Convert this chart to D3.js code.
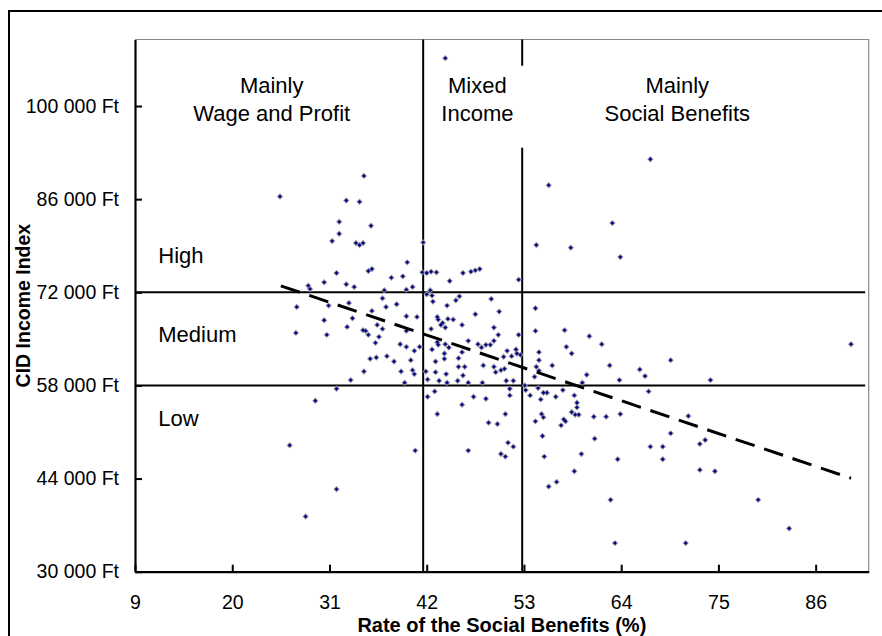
<!DOCTYPE html>
<html>
<head>
<meta charset="utf-8">
<script src="https://cdn.jsdelivr.net/npm/d3@7"></script>
<style>
body { margin: 0; background: #fff; }
svg text { font-family: "Liberation Sans", Arial, sans-serif; fill: #000; }
</style>
</head>
<body>
<div id="chart"></div>
<script>
// rate of the social benefits (%) for each settlement
var socialRate = [
  25.4, 34.9, 32.9, 34.4, 32.1, 35.7, 32.1, 31.3, 34.0, 34.4, 34.8, 41.6, 39.8, 31.8, 35.4, 35.8,
  41.5, 38.0, 39.3, 30.4, 28.6, 28.8, 32.9, 33.8, 39.7, 40.4, 37.2, 37.0, 33.2, 27.3, 30.9, 37.4,
  38.6, 35.8, 33.6, 39.7, 30.4, 40.9, 33.0, 36.4, 34.8, 35.1, 37.0, 39.7, 35.4, 36.6, 30.7, 27.2,
  36.2, 39.0, 39.7, 40.6, 41.2, 37.5, 35.6, 36.3, 38.3, 40.2, 34.9, 39.1, 40.4, 40.6, 33.4, 39.5,
  31.8, 29.4, 26.5, 40.7, 31.8, 28.3,
  44.1, 42.0, 42.5, 43.1, 44.6, 46.1, 47.0, 47.5, 48.0, 52.4, 42.4, 42.0, 42.6, 45.3, 45.7, 49.3,
  42.7, 44.3, 50.2, 47.5, 43.2, 43.3, 44.4, 45.0, 43.8, 43.6, 44.1, 46.0, 42.5, 49.6, 50.1, 52.4,
  43.2, 43.3, 44.1, 44.5, 46.7, 47.8, 48.2, 48.7, 49.2, 49.6, 42.6, 43.0, 44.0, 45.6, 46.0, 44.0,
  50.7, 51.1, 51.6, 52.1, 52.2, 52.6, 48.4, 49.6, 49.8, 50.4, 50.8, 45.6, 46.3, 43.0, 44.2, 46.1,
  41.9, 42.1, 43.4, 44.3, 45.5, 46.7, 48.3, 51.0, 51.8, 42.9, 42.1, 47.3, 48.7, 51.4, 51.4, 46.0,
  43.2, 50.9, 49.0, 50.0, 46.7, 51.2, 51.8, 50.4, 50.9,
  55.8, 67.3, 63.0, 63.9, 54.4, 58.3, 54.3, 57.6, 60.4, 57.8, 61.8, 58.4, 54.7, 54.7, 54.4, 54.7,
  56.2, 62.7, 66.1, 60.1, 66.7, 63.8, 59.6, 69.6, 74.1, 90.0, 54.3, 54.2, 53.1, 53.2, 54.6, 53.7,
  55.2, 55.6, 54.9, 56.6, 57.4, 58.7, 59.0, 59.0, 58.4, 58.8, 59.2, 55.0, 55.2, 57.5, 54.3, 57.7,
  57.2, 60.9, 62.3, 63.9, 55.1, 61.0, 55.3, 59.5, 63.6, 58.7, 56.7, 55.8, 62.8, 63.3, 67.1, 67.3,
  68.7, 68.7, 69.6, 72.9, 73.5, 72.9, 74.6, 71.6, 79.5, 83.0, 71.3
];

// CID income index (Ft)
var incomeIndex = [
  86400, 89500, 85800, 85600, 82600, 82000, 80800, 79700, 79400, 79100, 79400, 79500, 76500, 74900, 75200, 75500,
  75000, 74200, 74400, 73500, 73000, 72500, 73200, 72800, 72400, 72800, 72300, 71100, 70400, 69800, 70000, 69800,
  70200, 69200, 68100, 68400, 67800, 68300, 66800, 67100, 66300, 66200, 66500, 66200, 65600, 65300, 65600, 65900,
  64400, 64200, 63800, 63200, 63800, 62400, 62000, 62200, 61600, 61800, 60100, 60100, 60300, 59700, 58800, 58400,
  57500, 55700, 49000, 48200, 42400, 38300,
  107200, 74900, 75100, 75000, 73700, 74900, 75100, 75300, 75500, 73900, 72300, 71700, 71500, 70800, 71400, 71000,
  70600, 70000, 69100, 68700, 68300, 67900, 68000, 67900, 67400, 67100, 66700, 67100, 66500, 66700, 65600, 65600,
  64500, 64100, 64200, 63700, 64700, 64200, 63700, 64100, 64100, 64700, 63400, 61600, 62000, 62100, 63000, 62800,
  62300, 63200, 62400, 63400, 62800, 62600, 61000, 60800, 60000, 60300, 60500, 60800, 60800, 60000, 59700, 59500,
  60100, 58900, 58700, 58400, 58700, 58400, 58400, 58700, 58700, 57100, 56300, 56300, 56000, 57500, 56500, 55100,
  53700, 53700, 52400, 52200, 48200, 49400, 48800, 47700, 47300,
  88100, 92000, 82400, 77300, 79100, 78700, 69600, 66300, 65400, 63800, 64200, 62800, 63000, 61800, 60800, 60200,
  61000, 61000, 60400, 59600, 59400, 58800, 58400, 61800, 58800, 64200, 66200, 59300, 58000, 57300, 57600, 56500,
  56900, 56900, 55900, 56300, 57300, 56500, 55400, 54700, 54000, 53600, 53600, 53700, 53200, 52900, 52600, 52600,
  52000, 53300, 53300, 53700, 50400, 50000, 47300, 47700, 46900, 45100, 43500, 42800, 40800, 34300, 57100, 48800,
  48800, 46900, 50800, 49200, 49800, 45300, 45100, 53400, 40800, 36500, 34300
];

// linear trend line end points
var trendX = [25.5, 90.0];
var trendY = [72970, 44050];

var xTicks = [9, 20, 31, 42, 53, 64, 75, 86];
var yTicks = [30000, 44000, 58000, 72000, 86000, 100000];

// zone borders
var rateBorders = [41.6, 52.8];
var incomeBorders = [72000, 58000];

var zoneLabels = [["Mainly", "Wage and Profit"], ["Mixed", "Income"], ["Mainly", "Social Benefits"]];
var levelLabels = ["High", "Medium", "Low"];

var svgWidth = 882;
var svgHeight = 636;

var svg = d3.select("#chart")
    .append("svg")
    .attr("width", svgWidth)
    .attr("height", svgHeight);

var plotLeft = 135, plotRight = 868.7, plotTop = 39.5, plotBottom = 571.7;

var xScale = d3.scaleLinear().domain([9, 92]).range([plotLeft, plotRight]);
var yScale = d3.scaleLinear().domain([30000, 110000]).range([plotBottom, plotTop]);

// outer frame
svg.append("rect")
    .attr("x", 9).attr("y", 11)
    .attr("width", 900).attr("height", 700)
    .attr("fill", "none")
    .attr("stroke", "#000")
    .attr("stroke-width", 2);

// plot area frame (top and right)
svg.append("path")
    .attr("d", `M${plotLeft},${plotTop}H${plotRight}V${plotBottom}`)
    .attr("fill", "none")
    .attr("stroke", "#888")
    .attr("stroke-width", 1.2);

// zone lines
svg.selectAll(".hline")
    .data(incomeBorders)
    .enter()
    .append("line")
    .attr("x1", plotLeft).attr("x2", xScale(91.6))
    .attr("y1", d => yScale(d)).attr("y2", d => yScale(d))
    .attr("stroke", "#000")
    .attr("stroke-width", 2);

svg.selectAll(".vline")
    .data(rateBorders)
    .enter()
    .append("line")
    .attr("x1", d => xScale(d)).attr("x2", d => xScale(d))
    .attr("y1", plotTop).attr("y2", plotBottom)
    .attr("stroke", "#000")
    .attr("stroke-width", 2);

// white box of the "Mixed Income" label covers the line
svg.append("rect")
    .attr("x", 432).attr("y", 65.7)
    .attr("width", 95).attr("height", 82)
    .attr("fill", "#fff");

// axes
var xAxis = d3.axisBottom(xScale)
    .tickValues(xTicks)
    .tickSizeInner(-7)
    .tickSizeOuter(0)
    .tickPadding(23.5);

var yAxis = d3.axisLeft(yScale)
    .tickValues(yTicks)
    .tickSizeInner(-7)
    .tickSizeOuter(0)
    .tickPadding(16)
    .tickFormat(d => d3.format(",")(d).replace(/,/g, " ") + " Ft");

var gx = svg.append("g")
    .attr("transform", `translate(0,${plotBottom})`)
    .call(xAxis);

var gy = svg.append("g")
    .attr("transform", `translate(${plotLeft},0)`)
    .call(yAxis);

[gx, gy].forEach(function(g) {
    g.select(".domain").attr("stroke", "#000").attr("stroke-width", 2.2);
    g.selectAll(".tick line").attr("stroke", "#000").attr("stroke-width", 2);
    g.selectAll(".tick text")
        .attr("fill", "#000")
        .style("font-size", "19.5px")
        .style("font-family", "'Liberation Sans', Arial, sans-serif");
});

// points
var points = socialRate.map((r, i) => ({ rate: r, income: incomeIndex[i] }));

svg.append("g")
    .selectAll("path")
    .data(points)
    .enter()
    .append("path")
    .attr("transform", d => `translate(${xScale(d.rate)},${yScale(d.income)})`)
    .attr("d", "M0,-3.2L3.2,0L0,3.2L-3.2,0Z")
    .attr("fill", "#9a9aa8");

svg.append("g")
    .selectAll("path")
    .data(points)
    .enter()
    .append("path")
    .attr("transform", d => `translate(${xScale(d.rate)},${yScale(d.income)})`)
    .attr("d", "M0,-1.9L1.9,0L0,1.9L-1.9,0Z")
    .attr("fill", "#000080");

// trend line
var trendLine = d3.line()
    .x(d => xScale(d[0]))
    .y(d => yScale(d[1]));

svg.append("path")
    .datum(trendX.map((x, i) => [x, trendY[i]]))
    .attr("d", trendLine)
    .attr("fill", "none")
    .attr("stroke", "#000")
    .attr("stroke-width", 3)
    .attr("stroke-dasharray", "20,10");

// zone titles
var zoneCenters = [271.7, 477.4, 677.3];
zoneLabels.forEach(function(lines, i) {
    var t = svg.append("text")
        .attr("text-anchor", "middle")
        .style("font-size", "22px");
    lines.forEach(function(line, j) {
        t.append("tspan")
            .attr("x", zoneCenters[i])
            .attr("y", 92.5 + j * 28.8)
            .text(line);
    });
});

// income level titles
var levelBaselines = [262.7, 341.7, 425.5];
svg.selectAll(".level")
    .data(levelLabels)
    .enter()
    .append("text")
    .attr("x", 158.3)
    .attr("y", (d, i) => levelBaselines[i])
    .style("font-size", "22px")
    .text(d => d);

// axis titles
svg.append("text")
    .attr("x", (plotLeft + plotRight) / 2)
    .attr("y", 632)
    .attr("text-anchor", "middle")
    .style("font-size", "20px")
    .style("font-weight", "bold")
    .text("Rate of the Social Benefits (%)");

svg.append("text")
    .attr("transform", `translate(30,${(plotTop + plotBottom) / 2}) rotate(-90)`)
    .attr("text-anchor", "middle")
    .style("font-size", "19.5px")
    .style("font-weight", "bold")
    .text("CID Income Index");
</script>
</body>
</html>
